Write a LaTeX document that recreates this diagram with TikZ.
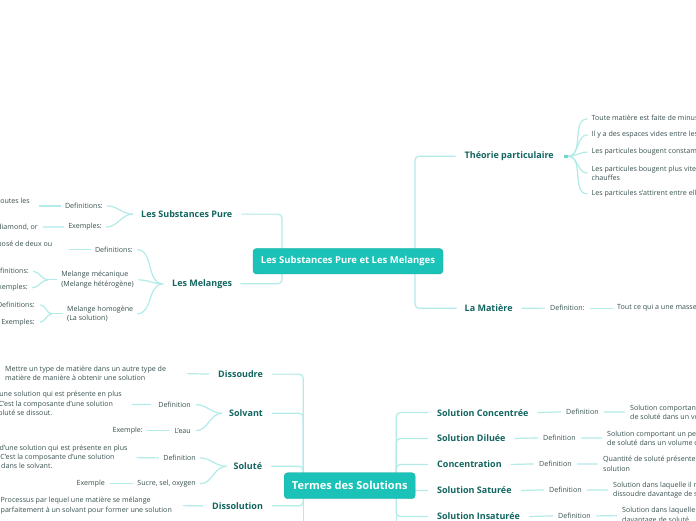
\documentclass[tikz,border=0pt]{standalone}
\usepackage{fontspec}
\setmainfont{Open Sans}
\usetikzlibrary{calc}
\definecolor{nodefill}{HTML}{1BC2B7}
\definecolor{nodeedge}{HTML}{16ADA3}
\definecolor{linec}{HTML}{B3EBE8}
\definecolor{stubc}{HTML}{6FD6CE}
\definecolor{topicc}{HTML}{11655F}
\definecolor{leafc}{HTML}{36504E}
\pgfdeclarelayer{bg}
\pgfsetlayers{bg,main}
\tikzset{
  conn/.style={draw=linec, line width=1.2pt, rounded corners=4pt},
  topic/.style={inner sep=0pt, text=topicc, yshift=-0.8pt, font=\bfseries\fontsize{9}{11}\selectfont},
  leaf/.style={inner sep=0pt, text=leafc, yshift=-0.6pt, font=\fontsize{7.1}{9.4}\selectfont, align=left},
  central/.style={fill=nodefill, draw=nodeedge, line width=0.4pt, rounded corners=3.5pt,
    text=white, inner sep=0pt},
}
\begin{document}
\begin{tikzpicture}[x=1pt,y=-1pt]
\useasboundingbox (0,0) rectangle (696,520);
\clip (0,0) rectangle (696,520);

% ---------- central nodes ----------
\node[central, minimum width=190pt, minimum height=25.5pt,
  font=\bfseries\fontsize{9.5}{11}\selectfont] (c1) at (348,261.2) {Les Substances Pure et Les Melanges};
\node[central, minimum width=131pt, minimum height=26pt,
  font=\bfseries\fontsize{11}{13}\selectfont] (c2) at (349.7,485.7) {Termes des Solutions};

\coordinate (l1) at ($(c1.center)+(-66,0)$);
\coordinate (r1) at ($(c1.center)+(67,0)$);
\coordinate (l2) at ($(c2.center)+(-46.5,0)$);
\coordinate (r2) at ($(c2.center)+(46.5,0)$);

% ---------- upper right ----------
\node[topic, anchor=west] (theo) at (464.5,155.5) {Théorie particulaire};
\node[leaf, anchor=west] (t1) at (591.5,118.3) {Toute matière est faite de minuscules particules};
\node[leaf, anchor=west] (t2) at (591.5,134.3) {Il y a des espaces vides entre les particules};
\node[leaf, anchor=west] (t3) at (591.5,151.5) {Les particules bougent constamment};
\node[leaf, anchor=west] (t4) at (591.5,172.5) {Les particules bougent plus vite lorsqu'elles sont\\chauffes};
\node[leaf, anchor=west] (t5) at (591.5,193.3) {Les particules s'attirent entre elles};

\node[topic, anchor=west] (mat) at (464.5,307.5) {La Matière};
\node[leaf, anchor=west] (matd) at (550,307.5) {Definition:};
\node[leaf, anchor=west] (matt) at (617,307.5) {Tout ce qui a une masse et occupe de l'espace};

% ---------- upper left ----------
\node[topic, anchor=west] (sp) at (141,213.3) {Les Substances Pure};
\node[leaf, anchor=east] (spd) at (103,205.3) {Definitions:};
\node[leaf, anchor=east] (spe) at (102,226.5) {Exemples:};
\node[leaf, anchor=east] (spdt) at (30,204.7) {Une substance pure est composée de particules qui sont toutes les\\mêmes.};
\node[leaf, anchor=east] (spet) at (38,226.3) {Sel, sucre, eau distillée, diamond, or};

\node[topic, anchor=west] (mel) at (172,283) {Les Melanges};
\node[leaf, anchor=east] (meld) at (133,249) {Definitions:};
\node[leaf, anchor=east] (meldt) at (52.5,249) {Un mélange est une substance composé de deux ou\\plusieurs substances.};
\node[leaf, anchor=east] (melm) at (134,279.2) {Melange mécanique\\(Melange hétérogène)};
\node[leaf, anchor=east] (melmd) at (29,270.7) {Definitions:};
\node[leaf, anchor=east] (melme) at (28,287.3) {Exemples:};
\node[leaf, anchor=west] (melh) at (67,313.2) {Melange homogène\\(La solution)};
\node[leaf, anchor=east] (melhd) at (35,304.3) {Definitions:};
\node[leaf, anchor=east] (melhe) at (35,321.6) {Exemples:};

% ---------- lower left ----------
\node[topic, anchor=west] (dis) at (218,373.3) {Dissoudre};
\node[leaf, anchor=west] (dist) at (5,373) {Mettre un type de matière dans un autre type de\\matière de manière à obtenir une solution};

\node[topic, anchor=west] (sol) at (229,412.5) {Solvant};
\node[leaf, anchor=east] (sold) at (191,404) {Definition};
\node[leaf, anchor=east] (solt) at (122,403.8) {La composante d'une solution qui est présente en plus\\grande quantité. C'est la composante d'une solution\\dans laquelle le soluté se dissout.};
\node[leaf, anchor=east] (sole) at (191,430) {L'eau};
\node[leaf, anchor=east] (solex) at (143,430) {Exemple:};

\node[topic, anchor=west] (solu) at (233.5,465.5) {Soluté};
\node[leaf, anchor=east] (solud) at (196,457.3) {Definition};
\node[leaf, anchor=east] (solut) at (127.7,457) {La composante d'une solution qui est présente en plus\\petite quantité. C'est la composante d'une solution\\qui est dissoute dans le solvant.};
\node[leaf, anchor=east] (solue) at (196,483.2) {Sucre, sel, oxygen};
\node[leaf, anchor=east] (soluex) at (105,483.2) {Exemple};

\node[topic, anchor=west] (dsl) at (212,505) {Dissolution};
\node[leaf, anchor=west] (dslt) at (0.5,505) {Processus par lequel une matière se mélange\\parfaitement à un solvant pour former une solution};

% ---------- lower right ----------
\node[topic, anchor=west] (sc) at (437,411.8) {Solution Concentrée};
\node[leaf, anchor=west] (scd) at (566,411.3) {Definition};
\node[leaf, anchor=west] (sct) at (630,411.5) {Solution comportant une grande quantité\\de soluté dans un volume de solvant};

\node[topic, anchor=west] (sd) at (437,437.7) {Solution Diluée};
\node[leaf, anchor=west] (sdd) at (543,437.3) {Definition};
\node[leaf, anchor=west] (sdt) at (607,437.5) {Solution comportant un petite quantité\\de soluté dans un volume de solvant};

\node[topic, anchor=west] (cc) at (437,463.7) {Concentration};
\node[leaf, anchor=west] (ccd) at (539,463.3) {Definition};
\node[leaf, anchor=west] (cct) at (603,463.4) {Quantité de soluté présente dans une\\solution};

\node[topic, anchor=west] (ss) at (437,489.7) {Solution Saturée};
\node[leaf, anchor=west] (ssd) at (549,489.3) {Definition};
\node[leaf, anchor=west] (sst) at (613,489.5) {Solution dans laquelle il ne peut plus\\dissoudre davantage de soluté};

\node[topic, anchor=west] (si) at (437,515.7) {Solution Insaturée};
\node[leaf, anchor=west] (sid) at (558,515.3) {Definition};
\node[leaf, anchor=west] (sit) at (622,515) {Solution dans laquelle on peut dissoudre\\davantage de soluté};

% ---------- connectors ----------
\begin{pgfonlayer}{bg}
\clip (0,0) rectangle (696,520);
\fill[white] (0,0) rectangle (696,520);
% central 1
\draw[conn] (l1) |- ([xshift=9pt]sp.east);
\draw[conn] (l1) |- ([xshift=8pt]mel.east);
\draw[conn] (r1) |- ([xshift=-9pt]theo.west);
\draw[conn] (r1) |- ([xshift=-8pt]mat.west);
% theorie
\draw[stubc, line width=2.4pt] ([xshift=10pt]theo.east) -- ([xshift=14pt]theo.east) coordinate (tj);
\foreach \t in {t1,t2,t3,t4,t5}
  \draw[conn] (tj) to[out=0,in=180] ([xshift=-4pt]\t.west);
% matiere
\draw[conn] ([xshift=9pt]mat.east) -- ([xshift=-5pt]matd.west);
\draw[conn] ([xshift=5pt]matd.east) -- ([xshift=-4pt]matt.west);
% substances pure
\draw[conn] ([xshift=-8pt]sp.west) to[out=180,in=0] ([xshift=4pt]spd.east);
\draw[conn] ([xshift=-8pt]sp.west) to[out=180,in=0] ([xshift=4pt]spe.east);
\draw[conn] ([xshift=-4pt]spd.west) -- ([xshift=9pt]spdt.east|-spd.west);
\draw[conn] ([xshift=-4pt]spe.west) -- ([xshift=5pt]spet.east);
% melanges
\foreach \m in {meld,melm}
  \draw[conn] ([xshift=-9pt]mel.west) to[out=180,in=0] ([xshift=4pt]\m.east);
\draw[conn] ([xshift=-9pt]mel.west) to[out=180,in=0] ($(melh.east)+(4,0)$);
\draw[conn] ([xshift=-4pt]meld.west) -- ([xshift=16pt]meldt.east);
\draw[conn] ([xshift=-4pt]melm.west) -- ([xshift=-13pt]melm.west) coordinate (mj);
\draw[conn] (mj) to[out=180,in=0] ([xshift=4pt]melmd.east);
\draw[conn] (mj) to[out=180,in=0] ([xshift=4pt]melme.east);
\draw[conn] ([xshift=-4pt]melh.west) -- ([xshift=-15pt]melh.west) coordinate (hj);
\draw[conn] (hj) to[out=180,in=0] ([xshift=5pt]melhd.east);
\draw[conn] (hj) to[out=180,in=0] ([xshift=5pt]melhe.east);
% central 2 left
\draw[conn] (l2) |- ([xshift=9pt]dis.east);
\draw[conn] (l2) |- ([xshift=9pt]sol.east);
\draw[conn] (l2) |- ([xshift=9pt]solu.east);
\draw[conn] (l2) |- ([xshift=9pt]dsl.east);
\draw[conn] (l2) -- ++(0,45);
\draw[conn] ([xshift=-9pt]dis.west) -- ([xshift=21pt]dist.east);
\draw[conn] ([xshift=-7pt]sol.west) to[out=180,in=0] ([xshift=5pt]sold.east);
\draw[conn] ([xshift=-7pt]sol.west) to[out=180,in=0] ([xshift=5pt]sole.east);
\draw[conn] ([xshift=-7pt]sold.west) -- ([xshift=10pt]solt.east);
\draw[conn] ([xshift=-4pt]sole.west) -- ([xshift=4pt]solex.east);
\draw[conn] ([xshift=-7pt]solu.west) to[out=180,in=0] ([xshift=4pt]solud.east);
\draw[conn] ([xshift=-7pt]solu.west) to[out=180,in=0] ([xshift=4pt]solue.east);
\draw[conn] ([xshift=-4pt]solud.west) -- ([xshift=9pt]solut.east);
\draw[conn] ([xshift=-4pt]solue.west) -- ([xshift=5pt]soluex.east);
\draw[conn] ([xshift=-9pt]dsl.west) -- ([xshift=11pt]dslt.east);
% central 2 right
\foreach \a/\b/\c in {sc/scd/sct, sd/sdd/sdt, cc/ccd/cct, ss/ssd/sst, si/sid/sit}{
  \draw[conn] (r2) |- ([xshift=-9pt]\a.west);
  \draw[conn] ([xshift=9pt]\a.east) -- ([xshift=-5pt]\b.west);
  \draw[conn] ([xshift=5pt]\b.east) -- ([xshift=-5pt]\c.west);
}
\draw[conn] (r2) -- ++(0,45);
\end{pgfonlayer}
\end{tikzpicture}
\end{document}
